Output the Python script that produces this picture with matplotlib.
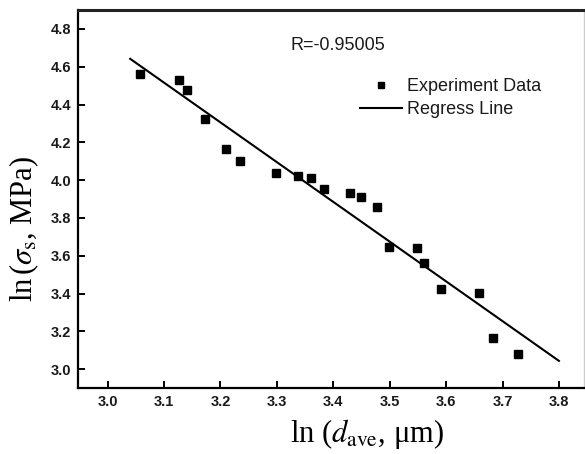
import numpy as np
import matplotlib.pyplot as plt

plt.rcParams['mathtext.fontset'] = 'stix'

# measured grain size vs. yield strength (log-log)
ln_d = [3.058, 3.126, 3.140, 3.173, 3.210, 3.235, 3.299, 3.338, 3.360, 3.384,
        3.430, 3.449, 3.477, 3.498, 3.548, 3.560, 3.591, 3.659, 3.683, 3.728]
ln_sigma = [4.564, 4.528, 4.476, 4.325, 4.167, 4.100, 4.037, 4.021, 4.013, 3.955,
            3.934, 3.912, 3.856, 3.648, 3.643, 3.559, 3.423, 3.402, 3.166, 3.079]
fit_range = [3.04, 3.80]
r_text = 'R=-0.95005'

x_ticks = [3.0, 3.1, 3.2, 3.3, 3.4, 3.5, 3.6, 3.7, 3.8]
y_ticks = [3.0, 3.2, 3.4, 3.6, 3.8, 4.0, 4.2, 4.4, 4.6, 4.8]

fig = plt.figure(figsize=(5.85, 4.54), dpi=100)
ax = fig.add_axes([78.3 / 585, 66 / 454, 506 / 585, 378 / 454])

slope, intercept = np.polyfit(ln_d, ln_sigma, 1)
xf = np.array(fit_range)

ax.plot(ln_d, ln_sigma, 's', color='black', ms=5.5, label='Experiment Data')
ax.plot(xf, slope * xf + intercept, '-', color='black', lw=1.5, label='Regress Line')

ax.set_xlim(2.948, 3.845)
ax.set_ylim(2.90, 4.90)
ax.set_xticks(x_ticks)
ax.set_yticks(y_ticks)
ax.set_xticklabels([f'{v:.1f}' for v in x_ticks])
ax.set_yticklabels([f'{v:.1f}' for v in y_ticks])

for lab in ax.get_xticklabels() + ax.get_yticklabels():
    lab.set_fontfamily('Liberation Sans')
    lab.set_fontweight('bold')
    lab.set_fontsize(10.5)
    lab.set_color('#1a1a1a')

ax.tick_params(direction='in', length=5, width=1.4, pad=5, color='black')
ax.tick_params(top=False, right=False)

for side in ['left', 'bottom']:
    ax.spines[side].set_linewidth(1.6)
ax.spines['top'].set_linewidth(2.2)
ax.spines['top'].set_color('#222222')
ax.spines['right'].set_color('#cccccc')
ax.spines['right'].set_linewidth(1.0)

ax.set_xlabel(r'ln ($d_{\rm ave}$, μm)', fontfamily='Liberation Serif', fontsize=22)
ax.set_ylabel(r'ln$\,$($\sigma_{\rm s}$, MPa)', fontfamily='Liberation Serif', fontsize=22)
ax.xaxis.set_label_coords(0.57, -0.077)
ax.yaxis.set_label_coords(-0.074, 0.42)

ax.text(290.7 / 585, 1 - 45 / 454, r_text, transform=fig.transFigure,
        fontfamily='Liberation Sans', fontsize=13, color='#1a1a1a',
        va='center', ha='left')

leg = ax.legend(loc='upper left', bbox_to_anchor=(360 / 585, 1 - 78 / 454),
                bbox_transform=fig.transFigure, frameon=False, borderpad=0,
                borderaxespad=0, handlelength=2.3, handletextpad=0.28,
                labelspacing=0.36, prop={'family': 'Liberation Sans', 'size': 13},
                markerscale=0.75)
for t in leg.get_texts():
    t.set_color('#1a1a1a')

fig.savefig('out.png', dpi=100)
